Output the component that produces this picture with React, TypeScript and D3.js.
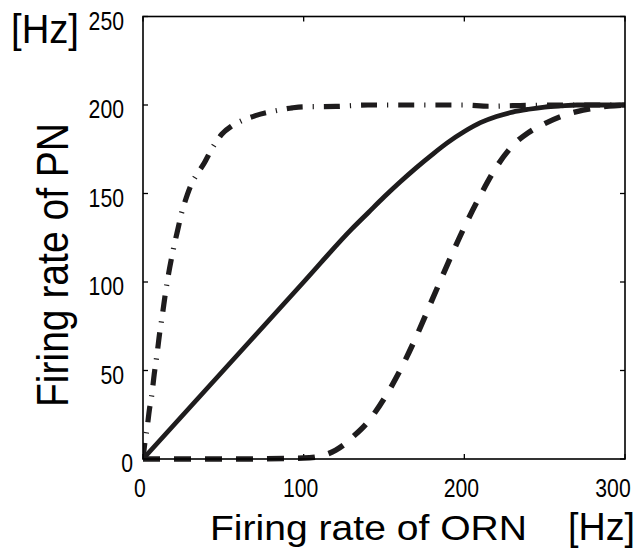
import React from "react";
import * as d3 from "d3";

const xTicks = [0, 100, 200, 300];
const yTicks = [0, 50, 100, 150, 200, 250];

const solidX = [0, 50, 100, 130, 140, 150, 160, 170, 180, 190, 200, 210, 220, 230, 240, 250, 260, 270, 300];
const solidY = [0, 50, 100, 130, 139, 148, 156.5, 164.5, 172, 179, 185, 190, 193.5, 196, 197.6, 198.8, 199.5, 200, 200];

const dashedX = [0, 50, 100, 110, 120, 125, 130, 140, 150, 160, 170, 180, 190, 200, 210, 220, 230, 240, 250, 260, 270, 280, 290, 300];
const dashedY = [0, 0, 0.5, 1.5, 5, 8, 12, 21, 34, 50, 69, 90, 111, 131, 149, 165, 177, 184.5, 189.5, 193.5, 196.3, 198.2, 199.4, 200];

const dotDashX = [0, 1, 2.5, 4, 5.6, 7, 8.7, 10.5, 12, 14, 16, 19, 22, 24, 26, 30, 34, 38, 43, 49, 55, 60, 70, 84, 93, 100, 120, 140, 160, 180, 200, 215, 230, 260, 300];
const dotDashY = [0, 8, 17, 28, 37, 48, 59, 72, 81, 94, 105, 119, 131, 139, 145, 155, 161.5, 167, 175.5, 183.5, 188, 190.5, 194, 197, 198.4, 199, 199.2, 200, 200, 200, 200, 199.3, 199.6, 200, 200];

export default function App() {
  const W = 640, H = 554;
  const left = 143, right = 625, top = 16.5, bottom = 459;
  const x = d3.scaleLinear().domain([0, 300]).range([left, right]);
  const y = d3.scaleLinear().domain([0, 250]).range([bottom, top]);
  const line = d3.line<[number, number]>()
    .x((d) => x(d[0]))
    .y((d) => y(d[1]))
    .curve(d3.curveMonotoneX);
  const pts = (xs: number[], ys: number[]) => xs.map((v, i) => [v, ys[i]] as [number, number]);
  const col = "#1e1c1d";
  const tickFont = "'Liberation Sans', Arial, sans-serif";
  const tl = 5;

  return (
    <svg width={W} height={H} style={{ position: "absolute", left: 0, top: 0, background: "#fff" }}>
      <defs>
        <clipPath id="plot">
          <rect x={left} y={top - 5} width={right - left} height={bottom - top + 10} />
        </clipPath>
      </defs>
      {/* ticks */}
      {xTicks.map((t) => (
        <g key={"xt" + t}>
          <line x1={x(t)} x2={x(t)} y1={bottom} y2={bottom - tl} stroke="#000" strokeWidth={1.3} />
          <line x1={x(t)} x2={x(t)} y1={top} y2={top + tl} stroke="#000" strokeWidth={1.3} />
          <text x={t === 300 ? x(t) - 12 : x(t) - 3} y={497} textAnchor="middle" fontFamily={tickFont} fontSize={26}
            textLength={11.8 * String(t).length} lengthAdjust="spacingAndGlyphs">{t}</text>
        </g>
      ))}
      {yTicks.map((t) => (
        <g key={"yt" + t}>
          <line x1={left} x2={left + tl} y1={y(t)} y2={y(t)} stroke="#000" strokeWidth={1.3} />
          <line x1={right} x2={right - tl} y1={y(t)} y2={y(t)} stroke="#000" strokeWidth={1.3} />
          <text x={t === 0 ? 133 : 124} y={y(t) + 13} textAnchor="end" fontFamily={tickFont} fontSize={26}
            textLength={11.8 * String(t).length} lengthAdjust="spacingAndGlyphs">{t}</text>
        </g>
      ))}
      {/* curves */}
      <g clipPath="url(#plot)" fill="none">
        <path d={line(pts(solidX, solidY)) || ""} stroke={col} strokeWidth={4.8} />
        <path d={line(pts(dashedX, dashedY)) || ""} stroke={col} strokeWidth={5.5} strokeDasharray="17 14" />
        <path d={line(pts(dotDashX, dotDashY)) || ""} stroke={col} strokeWidth={5.2} strokeDasharray="16 10 1.2 10" />
      </g>
      {/* frame */}
      <rect x={left} y={top} width={right - left} height={bottom - top} fill="none" stroke="#000" strokeWidth={1.6} />
      {/* labels */}
      <text x={210} y={540} fontFamily="'Liberation Sans', Arial, sans-serif" fontSize={35}
        textLength={317} lengthAdjust="spacingAndGlyphs">Firing rate of ORN</text>
      <text x={568} y={540} fontFamily="'Liberation Sans', Arial, sans-serif" fontSize={38}
        textLength={67} lengthAdjust="spacingAndGlyphs">[Hz]</text>
      <text x={11} y={43} fontFamily="'Liberation Sans', Arial, sans-serif" fontSize={40}
        textLength={68} lengthAdjust="spacingAndGlyphs">[Hz]</text>
      <text transform="translate(68,407) rotate(-90)" x={0} y={0} fontFamily="'Liberation Sans', Arial, sans-serif"
        fontSize={44} textLength={284} lengthAdjust="spacingAndGlyphs">Firing rate of PN</text>
    </svg>
  );
}
